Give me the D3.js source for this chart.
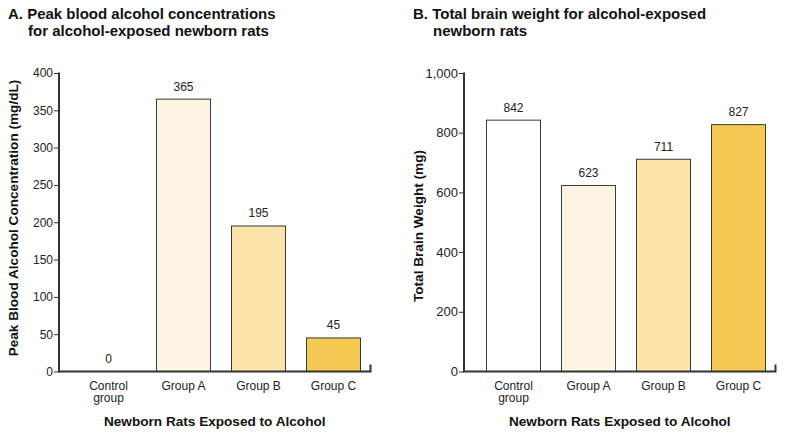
<!DOCTYPE html>
<html>
<head>
<meta charset="utf-8">
<script src="https://cdn.jsdelivr.net/npm/d3@7"></script>
<style>
  body { margin: 0; background: #fff; }
  svg { display: block; font-family: "Liberation Sans", Arial, sans-serif; }
</style>
</head>
<body>
<svg id="chart" width="785" height="437"></svg>
<script>
const categories = ["Control group", "Group A", "Group B", "Group C"];
const categoryLines = [["Control", "group"], ["Group A"], ["Group B"], ["Group C"]];
const bloodAlcohol = [0, 365, 195, 45];
const brainWeight = [842, 623, 711, 827];
const bloodTicks = [0, 50, 100, 150, 200, 250, 300, 350, 400];
const brainTicks = [0, 200, 400, 600, 800, 1000];
const barColors = ["#ffffff", "#fff4e3", "#fce3a9", "#f6c950"];

const svg = d3.select("#chart");

function panel(opts) {
  const g = svg.append("g");
  const y = d3.scaleLinear().domain(opts.domain).range([371.5, 73]);
  const x = d3.scaleBand().domain(categories).range([opts.x0 + 11.5, opts.x0 + 311.5])
    .paddingInner(0.28).paddingOuter(0.14);

  // title
  const t = g.append("text").attr("font-weight", "bold").attr("font-size", 15).attr("fill", "#111");
  opts.title.forEach((line, i) => {
    t.append("tspan").attr("x", i === 0 ? opts.tx : opts.tx + 20).attr("y", 18.5 + i * 17.5).text(line);
  });

  // bars
  g.selectAll("rect.bar").data(opts.values).enter().append("rect")
    .attr("class", "bar")
    .attr("x", (d, i) => x(categories[i]) + 0.5)
    .attr("width", x.bandwidth())
    .attr("y", d => y(d))
    .attr("height", d => y(0) - y(d))
    .attr("fill", (d, i) => barColors[i])
    .attr("stroke", "#3a3a3a")
    .attr("stroke-width", 1)
    .attr("display", d => d === 0 ? "none" : null);

  // value labels
  g.selectAll("text.val").data(opts.values).enter().append("text")
    .attr("class", "val")
    .attr("x", (d, i) => x(categories[i]) + x.bandwidth() / 2 + 0.5)
    .attr("y", d => y(d) - 8.5)
    .attr("text-anchor", "middle")
    .attr("font-size", 12)
    .attr("fill", "#222")
    .text(d => opts.format(d));

  // y axis
  const yAxis = d3.axisLeft(y).tickValues(opts.ticks).tickSize(5).tickPadding(1)
    .tickFormat(opts.format);
  const ya = g.append("g").attr("transform", `translate(${opts.x0},0)`).call(yAxis);
  ya.select(".domain").attr("stroke", "#333").attr("stroke-width", 2).attr("d", `M0,${y(opts.domain[1]) - 0.5}V${y(0)}`);
  ya.selectAll(".tick line").attr("stroke", "#333").attr("stroke-width", 1);
  ya.selectAll(".tick text").attr("font-size", opts.tickFont).attr("fill", "#222")
    .attr("font-family", "Liberation Sans, Arial, sans-serif");

  // x axis
  const xa = g.append("g").attr("transform", `translate(0,${y(0)})`);
  const xEnd = x.range()[1];
  xa.append("path").attr("d", `M${opts.x0 - 1},0H${xEnd}V-7`).attr("fill", "none")
    .attr("stroke", "#333").attr("stroke-width", 2);

  categoryLines.forEach((lines, i) => {
    const tt = xa.append("text").attr("text-anchor", "middle").attr("font-size", 12).attr("fill", "#222");
    lines.forEach((ln, j) => {
      tt.append("tspan").attr("x", x(categories[i]) + x.bandwidth() / 2 + 0.5).attr("y", 18 + j * 12.5).text(ln);
    });
  });

  // axis titles
  g.append("text").attr("x", (opts.x0 + xEnd) / 2).attr("y", 426).attr("text-anchor", "middle")
    .attr("font-weight", "bold").attr("font-size", 13.6).attr("fill", "#111")
    .text("Newborn Rats Exposed to Alcohol");
  g.append("text").attr("transform", `translate(${opts.ytx},${opts.yty}) rotate(-90)`)
    .attr("text-anchor", "middle").attr("font-weight", "bold").attr("font-size", 13.6).attr("fill", "#111")
    .text(opts.ytitle);
}

panel({
  x0: 59, tx: 8, title: ["A. Peak blood alcohol concentrations", "for alcohol-exposed newborn rats"],
  values: bloodAlcohol, domain: [0, 400], ticks: bloodTicks, format: d3.format(","),
  tickFont: 12, ytitle: "Peak Blood Alcohol Concentration (mg/dL)", ytx: 18, yty: 218
});
panel({
  x0: 464, tx: 413, title: ["B. Total brain weight for alcohol-exposed", "newborn rats"],
  values: brainWeight, domain: [0, 1000], ticks: brainTicks, format: d3.format(","),
  tickFont: 13, ytitle: "Total Brain Weight (mg)", ytx: 423, yty: 226
});
</script>
</body>
</html>
